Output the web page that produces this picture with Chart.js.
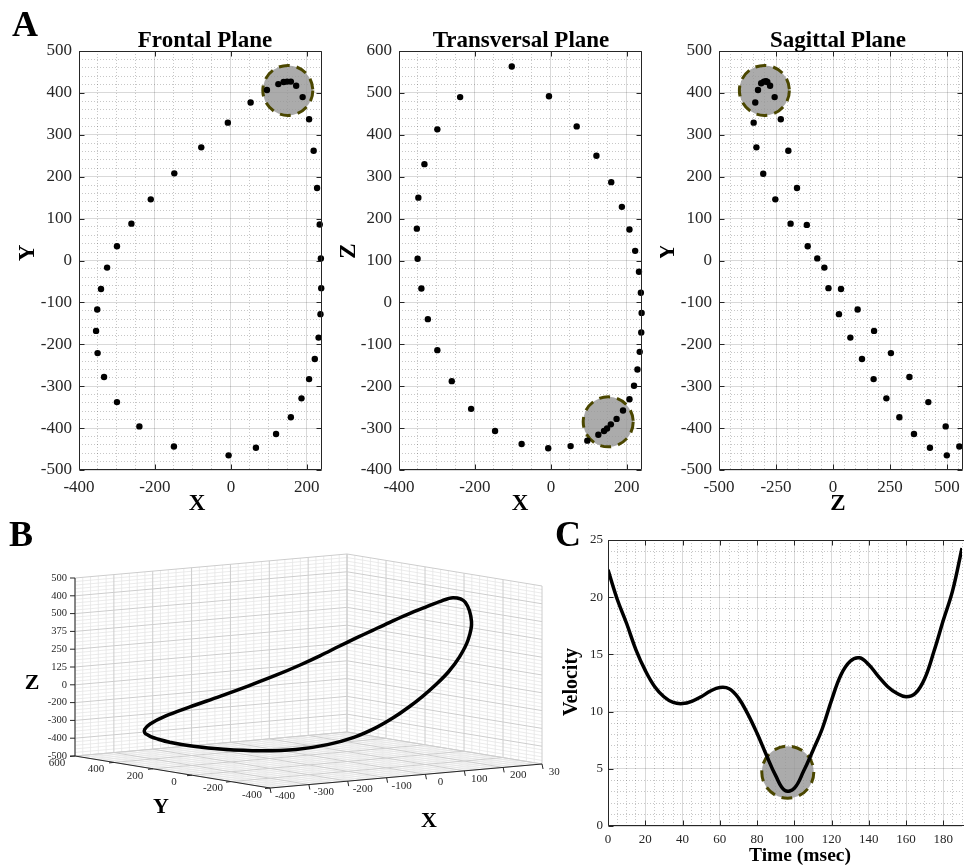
<!DOCTYPE html>
<html>
<head>
<meta charset="utf-8">
<title>Trajectory planes, 3D loop and velocity</title>
<script src="https://cdn.jsdelivr.net/npm/chart.js@4.4.1/dist/chart.umd.min.js"></script>
<style>
  html, body { margin:0; padding:0; background:#ffffff; }
  #fig { position:relative; width:968px; height:868px; overflow:hidden; background:#ffffff; }
  #fig canvas { position:absolute; }
  .panel { position:absolute; font-family:"Liberation Serif","Times New Roman",serif; font-weight:bold; font-size:36px; line-height:1; color:#000; }
</style>
</head>
<body>
<div id="fig">
  <canvas id="cF" width="330" height="520" style="left:0px;top:0px;width:330px;height:520px"></canvas>
  <canvas id="cT" width="330" height="520" style="left:330px;top:0px;width:330px;height:520px"></canvas>
  <canvas id="cS" width="308" height="520" style="left:660px;top:0px;width:308px;height:520px"></canvas>
  <canvas id="cB" width="560" height="328" style="left:0px;top:540px;width:560px;height:328px"></canvas>
  <canvas id="cC" width="408" height="348" style="left:560px;top:520px;width:408px;height:348px"></canvas>
  <div class="panel" style="left:12px;top:6px">A</div>
  <div class="panel" style="left:9px;top:516px">B</div>
  <div class="panel" style="left:555px;top:516px">C</div>
</div>
<script>
// ================= DATA =================
// Trajectory samples, same sample order in every plane
const frontalX = [125,139,148,158,172,189,206,218,227,234,237,238,236,231,221,206,186,158,119,66,-6,-150,-241,-300,-334,-351,-355,-352,-342,-326,-300,-262,-211,-149,-78,-8,52,95];
const frontalY = [421,426,427,427,417,390,337,262,173,86,5,-66,-128,-184,-235,-283,-329,-374,-414,-447,-465,-444,-396,-338,-278,-221,-168,-117,-68,-17,34,88,146,208,270,329,377,407];
const transversalX = [125,140,148,158,173,190,207,219,228,234,238,239,237,232,222,207,187,159,120,68,-5,-103,-239,-299,-333,-349,-353,-351,-341,-324,-299,-261,-210,-147,-77,-7,52,96];
const transversalZ = [-316,-307,-301,-291,-278,-258,-231,-199,-160,-118,-72,-25,23,73,123,174,228,287,350,420,492,563,490,413,330,250,176,104,33,-40,-114,-188,-254,-307,-338,-348,-343,-330];
const sagittalZ = [-315,-303,-294,-288,-276,-256,-229,-196,-158,-115,-69,-20,26,76,127,178,234,291,355,425,499,554,494,418,335,254,180,108,35,-38,-111,-186,-253,-306,-336,-348,-341,-329];
const sagittalY = [423,427,428,426,417,390,337,262,173,85,5,-66,-128,-184,-235,-283,-329,-374,-414,-447,-465,-444,-396,-338,-278,-221,-168,-117,-68,-17,34,88,146,207,270,329,377,407];

// Highlighted regions (data coordinates)
const frontalHighlight = [150, 406];
const transversalHighlight = [151, -285];
const sagittalHighlight = [-301, 406];
const velocityHighlight = [96.5, 4.7];

// Velocity profile
const timeMs = [0,5,10,15,20,25,30,35,40,45,50,55,60,65,70,75,80,85,90,95,100,105,110,115,120,125,130,135,140,145,150,155,160,165,170,175,180,185,190];
const velocity = [22.4,19.8,17.7,15.4,13.6,12.2,11.3,10.8,10.7,10.9,11.3,11.8,12.1,12.0,11.2,9.8,8.1,6.2,4.4,3.1,3.3,4.8,6.6,8.5,11.0,13.2,14.4,14.7,14.1,13.1,12.2,11.6,11.3,11.6,12.9,15.3,18.0,20.6,24.3];

// 3D panel tick labels
const box3dXTicks = [-400,-300,-200,-100,0,100,200,300];
const box3dYTicks = [600,400,200,0,-200,-400];
const box3dZTickValues = [500,400,300,200,100,0,-100,-200,-300,-400,-500];
const box3dZTickLabels = ['500','400','500','375','250','125','0','-200','-300','-400','-500'];

// ================= STYLE =================
const SERIF = '"Liberation Serif","Times New Roman",serif';
const INK = '#262626';
const GRID_MAJOR = 'rgba(0,0,0,0.15)';
const GRID_MINOR = 'rgba(0,0,0,0.22)';
const HL_FILL = 'rgba(150,150,150,0.8)';
const HL_EDGE = '#4b4700';
Chart.defaults.font.family = SERIF;

function makeTicks(min, max, step) {
  const out = [];
  const start = Math.ceil(min / step - 1e-9) * step;
  for (let v = start; v <= max + 1e-9; v += step) out.push(+v.toFixed(6));
  return out;
}
function isMult(v, step) { return Math.abs(v / step - Math.round(v / step)) < 1e-6; }

function axis(o) {
  return {
    type: 'linear', min: o.min, max: o.max,
    afterBuildTicks: s => { s.ticks = makeTicks(o.min, o.max, o.minor).map(v => ({ value: v })); },
    afterFit: s => { if (o.isX) s.height = o.size; else s.width = o.size; },
    ticks: {
      autoSkip: false, maxRotation: 0, minRotation: 0, padding: o.pad, color: INK,
      font: { family: SERIF, size: o.font },
      callback: v => isMult(v, o.major) ? String(v) : ''
    },
    grid: {
      drawTicks: false, lineWidth: 1,
      color: c => (c.tick && isMult(c.tick.value, o.major)) ? GRID_MAJOR : GRID_MINOR
    },
    border: {
      display: false,
      dash: c => (c.tick && !isMult(c.tick.value, o.major)) ? [1, 2] : []
    }
  };
}

function highlightPlugin(center, radius) {
  return {
    id: 'highlight',
    beforeDatasetsDraw(chart) {
      const { ctx, scales: { x, y } } = chart;
      const cx = x.getPixelForValue(center[0]), cy = y.getPixelForValue(center[1]);
      ctx.save();
      ctx.beginPath(); ctx.arc(cx, cy, radius, 0, Math.PI * 2);
      ctx.fillStyle = HL_FILL; ctx.fill();
      ctx.setLineDash([11, 7]); ctx.lineWidth = 3; ctx.strokeStyle = HL_EDGE; ctx.stroke();
      ctx.restore();
    }
  };
}

function framePlugin(o) {
  return {
    id: 'frame',
    afterDatasetsDraw(chart) {
      const { ctx, chartArea: a, scales: { x, y } } = chart;
      ctx.save();
      ctx.strokeStyle = INK; ctx.lineWidth = 1;
      const L = Math.round(a.left) + 0.5, R = Math.round(a.right) - 0.5, T = Math.round(a.top) + 0.5, B = Math.round(a.bottom) - 0.5;
      ctx.beginPath();
      ctx.moveTo(L, T); ctx.lineTo(L, B); ctx.lineTo(o.right ? R : a.right + 2, B);
      if (o.right) { ctx.moveTo(R, B); ctx.lineTo(R, T); }
      ctx.moveTo(L, T); ctx.lineTo(o.right ? R : a.right + 2, T);
      ctx.stroke();
      const tl = 5;
      ctx.beginPath();
      for (const v of makeTicks(x.min, x.max, o.xMajor)) {
        const p = Math.round(x.getPixelForValue(v)) + 0.5;
        ctx.moveTo(p, B); ctx.lineTo(p, B - tl);
        ctx.moveTo(p, T); ctx.lineTo(p, T + tl);
      }
      for (const v of makeTicks(y.min, y.max, o.yMajor)) {
        const p = Math.round(y.getPixelForValue(v)) + 0.5;
        ctx.moveTo(L, p); ctx.lineTo(L + tl, p);
        if (o.right) { ctx.moveTo(R, p); ctx.lineTo(R - tl, p); }
      }
      ctx.stroke();
      ctx.restore();
    }
  };
}

function textPlugin(offset, items) {
  return {
    id: 'texts',
    afterDraw(chart) {
      const ctx = chart.ctx;
      ctx.save();
      ctx.fillStyle = '#000'; ctx.textAlign = 'center'; ctx.textBaseline = 'middle';
      for (const it of items) {
        ctx.font = `bold ${it.s}px ${SERIF}`;
        ctx.save();
        ctx.translate(it.x - offset[0], it.y - offset[1]);
        if (it.r) ctx.rotate(it.r);
        ctx.fillText(it.t, 0, 0);
        ctx.restore();
      }
      ctx.restore();
    }
  };
}

function planeChart(id, c) {
  return new Chart(document.getElementById(id), {
    type: 'scatter',
    data: { datasets: [{
      data: c.xs.map((v, i) => ({ x: v, y: c.ys[i] })),
      pointRadius: 3.2, pointBackgroundColor: '#000', pointBorderWidth: 0, showLine: false, clip: false
    }] },
    options: {
      responsive: false, animation: false, events: [], devicePixelRatio: 1,
      layout: { padding: { top: c.padTop, right: c.padRight, left: 0, bottom: 0 } },
      plugins: { legend: { display: false }, tooltip: { enabled: false }, title: { display: false } },
      scales: {
        x: axis(Object.assign({ isX: true }, c.x)),
        y: axis(Object.assign({ isX: false }, c.y))
      }
    },
    plugins: [highlightPlugin(c.hl, c.hlR), framePlugin({ xMajor: c.x.major, yMajor: c.y.major, right: true }), textPlugin(c.offset, c.texts)]
  });
}

// ================= PANEL A =================
planeChart('cF', {
  xs: frontalX, ys: frontalY, hl: frontalHighlight, hlR: 25, offset: [0, 0], padTop: 51, padRight: 8,
  x: { min: -400, max: 240, minor: 50, major: 200, size: 50, font: 17, pad: 7 },
  y: { min: -500, max: 500, minor: 20, major: 100, size: 79, font: 17, pad: 7 },
  texts: [ { t: 'Frontal Plane', x: 205, y: 41, s: 23 }, { t: 'X', x: 197, y: 504, s: 23 }, { t: 'Y', x: 28, y: 253, s: 23, r: -Math.PI / 2 } ]
});
planeChart('cT', {
  xs: transversalX, ys: transversalZ, hl: transversalHighlight, hlR: 25, offset: [330, 0], padTop: 51, padRight: 18,
  x: { min: -400, max: 240, minor: 50, major: 200, size: 50, font: 17, pad: 7 },
  y: { min: -400, max: 600, minor: 20, major: 100, size: 69, font: 17, pad: 7 },
  texts: [ { t: 'Transversal Plane', x: 521, y: 41, s: 23 }, { t: 'X', x: 520, y: 504, s: 23 }, { t: 'Z', x: 349, y: 251, s: 23, r: -Math.PI / 2 } ]
});
planeChart('cS', {
  xs: sagittalZ, ys: sagittalY, hl: sagittalHighlight, hlR: 25, offset: [660, 0], padTop: 51, padRight: 5,
  x: { min: -500, max: 570, minor: 50, major: 250, size: 50, font: 17, pad: 7 },
  y: { min: -500, max: 500, minor: 20, major: 100, size: 59, font: 17, pad: 7 },
  texts: [ { t: 'Sagittal Plane', x: 838, y: 41, s: 23 }, { t: 'Z', x: 838, y: 504, s: 23 }, { t: 'Y', x: 668, y: 252, s: 23, r: -Math.PI / 2 } ]
});

// ================= PANEL B (3D view) =================
// 3D axes box: limits and screen basis of the box edges
const BOX = { origin: [270, 788], ex: [0.3886, -0.0343], ey: [-0.195, -0.032], ez: [0, -0.178],
              lo: { X: -400, Y: -400, Z: -500 }, hi: { X: 300, Y: 600, Z: 500 } };
function boxView(X, Y, Z) {
  const dx = X - BOX.lo.X, dy = Y - BOX.lo.Y, dz = Z - BOX.lo.Z;
  return [BOX.origin[0] + dx * BOX.ex[0] + dy * BOX.ey[0] + dz * BOX.ez[0],
          BOX.origin[1] + dx * BOX.ex[1] + dy * BOX.ey[1] + dz * BOX.ez[1]];
}
// Camera projection used for the trajectory loop
const VIEW = { k: [317.3, 685.8], h: [-0.1967, -0.4066, -0.1106], v: [-0.086, 0.0542, -0.129] };
function viewOf(X, Y, Z) {
  return { x: VIEW.k[0] + VIEW.h[0] * X + VIEW.h[1] * Y + VIEW.h[2] * Z,
           y: VIEW.k[1] + VIEW.v[0] * X + VIEW.v[1] * Y + VIEW.v[2] * Z };
}
const loopPts = frontalX.map((x, i) => viewOf(x, frontalY[i], transversalZ[i]));
const nL = loopPts.length;
const closedLoop = [loopPts[nL - 1]].concat(loopPts, [loopPts[0], loopPts[1]]);

const box3dPlugin = {
  id: 'box3d',
  beforeDatasetsDraw(chart) {
    const { ctx, scales: { x, y } } = chart;
    const P = p => [x.getPixelForValue(p[0]), y.getPixelForValue(p[1])];
    const seg = (a, b) => { const A = P(a), B = P(b); ctx.moveTo(A[0], A[1]); ctx.lineTo(B[0], B[1]); };
    const lo = BOX.lo, hi = BOX.hi;
    const passes = [
      { color: '#e6e6e6', w: 0.8, test: (v, m) => !isMult(v, m) },
      { color: '#cdcdcd', w: 1, test: (v, m) => isMult(v, m) }
    ];
    ctx.save();
    for (const ps of passes) {
      ctx.strokeStyle = ps.color; ctx.lineWidth = ps.w; ctx.beginPath();
      for (const X of makeTicks(lo.X, hi.X, 20)) if (ps.test(X, 100)) {
        seg(boxView(X, hi.Y, lo.Z), boxView(X, hi.Y, hi.Z));
        seg(boxView(X, lo.Y, lo.Z), boxView(X, hi.Y, lo.Z));
      }
      for (const Y of makeTicks(lo.Y, hi.Y, 40)) if (ps.test(Y, 200)) {
        seg(boxView(hi.X, Y, lo.Z), boxView(hi.X, Y, hi.Z));
        seg(boxView(lo.X, Y, lo.Z), boxView(hi.X, Y, lo.Z));
      }
      for (const Z of makeTicks(lo.Z, hi.Z, 20)) if (ps.test(Z, 100)) {
        seg(boxView(lo.X, hi.Y, Z), boxView(hi.X, hi.Y, Z));
        seg(boxView(hi.X, lo.Y, Z), boxView(hi.X, hi.Y, Z));
      }
      ctx.stroke();
    }
    ctx.strokeStyle = INK; ctx.lineWidth = 1; ctx.beginPath();
    seg(boxView(lo.X, hi.Y, lo.Z), boxView(lo.X, hi.Y, hi.Z));
    seg(boxView(lo.X, hi.Y, lo.Z), boxView(lo.X, lo.Y, lo.Z));
    seg(boxView(lo.X, lo.Y, lo.Z), boxView(hi.X, lo.Y, lo.Z));
    for (const Z of box3dZTickValues) { const p = P(boxView(lo.X, hi.Y, Z)); ctx.moveTo(p[0] - 5, p[1]); ctx.lineTo(p[0], p[1]); }
    for (const Y of box3dYTicks) { const p = P(boxView(lo.X, Y, lo.Z)); ctx.moveTo(p[0], p[1]); ctx.lineTo(p[0] - 5, p[1] + 0.5); }
    for (const X of box3dXTicks) { const p = P(boxView(X, lo.Y, lo.Z)); ctx.moveTo(p[0], p[1]); ctx.lineTo(p[0] + 1, p[1] + 5); }
    ctx.stroke();
    ctx.fillStyle = INK; ctx.textBaseline = 'middle';
    ctx.font = `10.5px ${SERIF}`; ctx.textAlign = 'right';
    box3dZTickValues.forEach((Z, i) => { const p = P(boxView(lo.X, hi.Y, Z)); ctx.fillText(box3dZTickLabels[i], p[0] - 8, p[1]); });
    ctx.font = `11px ${SERIF}`; ctx.textAlign = 'center';
    for (const Y of box3dYTicks) { const p = P(boxView(lo.X, Y, lo.Z)); ctx.fillText(String(Y), p[0] - 18, p[1] + 7); }
    for (const X of box3dXTicks) { const p = P(boxView(X, lo.Y, lo.Z)); ctx.fillText(String(X), p[0] + 15, p[1] + 8); }
    ctx.restore();
  }
};

new Chart(document.getElementById('cB'), {
  type: 'scatter',
  data: { datasets: [{
    data: closedLoop, showLine: true, tension: 0.35, borderColor: '#000', borderWidth: 3.5,
    pointRadius: 0, fill: false, clip: false
  }] },
  options: {
    responsive: false, animation: false, events: [], devicePixelRatio: 1,
    layout: { padding: 0 },
    plugins: { legend: { display: false }, tooltip: { enabled: false } },
    scales: {
      x: { type: 'linear', display: false, min: 0, max: 560 },
      y: { type: 'linear', display: false, min: 540, max: 868, reverse: true }
    }
  },
  plugins: [box3dPlugin, textPlugin([0, 540], [
    { t: 'Z', x: 32, y: 683, s: 22 }, { t: 'Y', x: 161, y: 807, s: 22 }, { t: 'X', x: 429, y: 821, s: 22 }
  ])]
});

// ================= PANEL C =================
new Chart(document.getElementById('cC'), {
  type: 'scatter',
  data: { datasets: [{
    data: timeMs.map((t, i) => ({ x: t, y: velocity[i] })),
    showLine: true, tension: 0.4, borderColor: '#000', borderWidth: 3.5, pointRadius: 0, fill: false
  }] },
  options: {
    responsive: false, animation: false, events: [], devicePixelRatio: 1,
    layout: { padding: { top: 20, right: 0, left: 0, bottom: 0 } },
    plugins: { legend: { display: false }, tooltip: { enabled: false } },
    scales: {
      x: axis({ isX: true, min: 0, max: 190, minor: 5, major: 20, size: 42, font: 13, pad: 6 }),
      y: axis({ isX: false, min: 0, max: 25, minor: 1, major: 5, size: 48, font: 13, pad: 5 })
    }
  },
  plugins: [highlightPlugin(velocityHighlight, 26), framePlugin({ xMajor: 20, yMajor: 5, right: false }),
    textPlugin([560, 520], [ { t: 'Time (msec)', x: 800, y: 856, s: 19.5 }, { t: 'Velocity', x: 572, y: 682, s: 20, r: -Math.PI / 2 } ])]
});
</script>
</body>
</html>
